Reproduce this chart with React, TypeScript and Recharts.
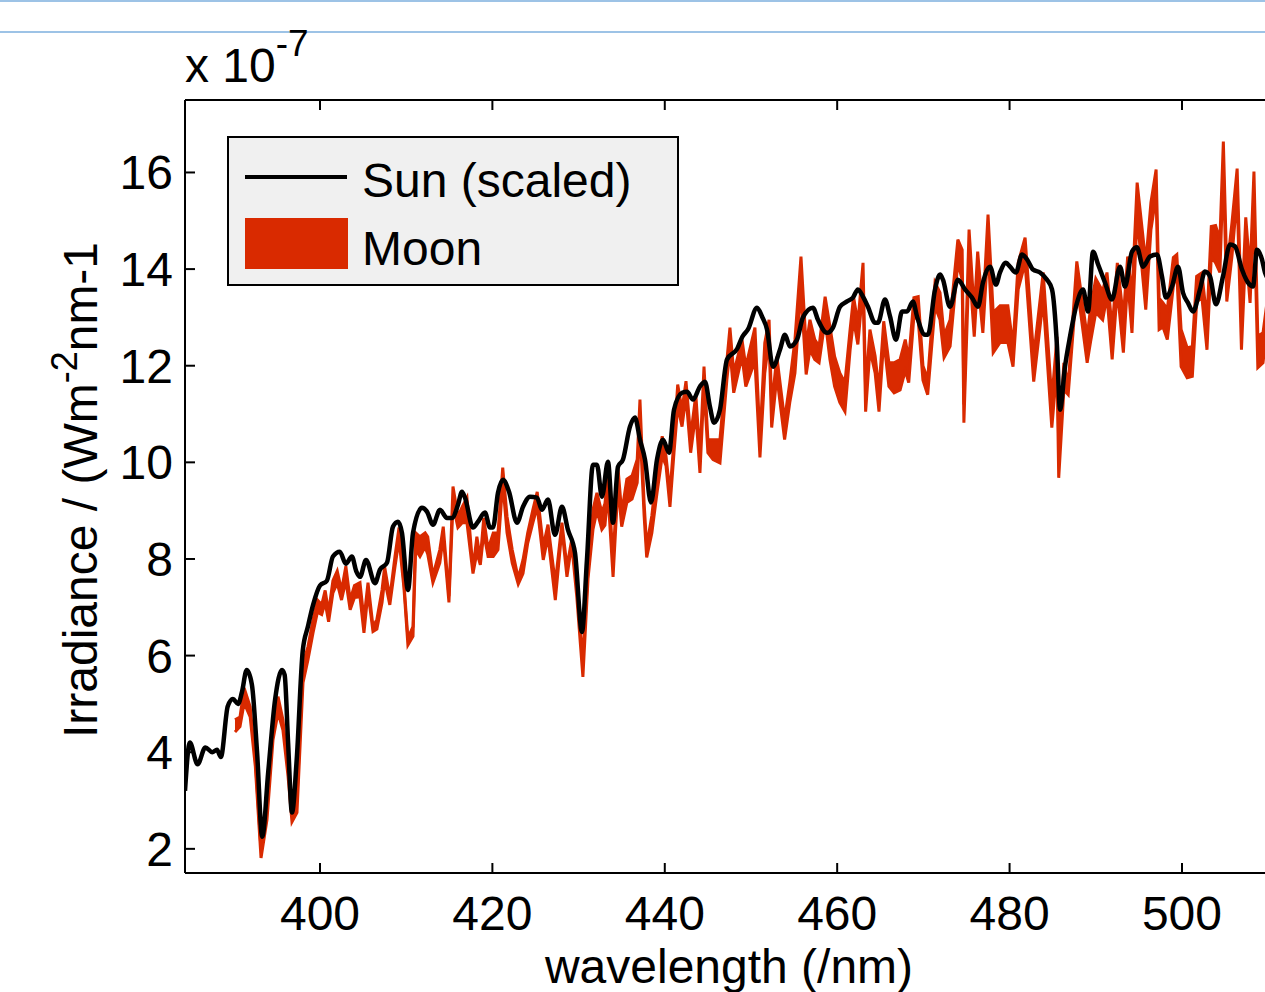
import { ComposedChart, Line, Area, XAxis, YAxis, Legend } from "recharts";

// Sun spectrum (scaled), irradiance in units of 1e-7 W m^-2 nm^-1
const SUN_WL = [
  384.34, 384.9, 385.8, 386.7, 387.5, 388.05, 388.5, 389.3, 389.9, 390.5,
  390.95, 391.5, 392.1, 392.7, 393.3, 394.0, 394.8, 395.6, 395.9, 396.3,
  396.75, 397.3, 398.0, 398.6, 399.2, 400.0, 400.8, 401.5, 402.3, 403.0,
  403.7, 404.2, 404.64, 405.34, 406.38, 406.96, 407.77, 408.47, 409.05, 409.51,
  410.21, 410.79, 411.83, 412.41, 413.11, 413.92, 414.73, 415.31, 416.01, 416.47,
  416.82, 417.75, 418.33, 419.14, 419.72, 420.07, 420.65, 421.23, 421.93, 422.85,
  423.55, 424.36, 425.17, 425.75, 426.45, 427.26, 428.07, 428.77, 429.58, 430.39,
  430.97, 431.67, 432.13, 432.71, 433.41, 433.99, 434.57, 435.15, 435.96, 436.54,
  437.12, 437.7, 438.4, 439.1, 439.79, 440.49, 441.07, 442.0, 442.58, 443.27,
  444.08, 444.66, 445.24, 445.71, 446.4, 447.22, 448.4, 449.0, 449.65, 450.7,
  451.28, 451.86, 452.55, 453.36, 453.94, 454.52, 455.34, 456.03, 457.19, 457.77,
  458.82, 459.51, 460.32, 461.14, 461.83, 462.41, 462.99, 463.57, 464.39, 464.73,
  465.55, 466.13, 466.82, 467.52, 468.1, 468.79, 469.26, 470.19, 470.53, 471.35,
  471.93, 472.27, 473.09, 474.01, 474.83, 475.64, 476.33, 476.91, 477.73, 478.42,
  478.89, 479.58, 480.05, 480.74, 481.44, 482.02, 482.71, 483.53, 484.34, 484.92,
  485.5, 485.85, 486.43, 487.01, 487.82, 488.52, 489.1, 489.68, 490.26, 491.07,
  491.88, 492.81, 493.39, 494.2, 494.78, 495.48, 496.29, 497.1, 497.68, 498.14,
  498.84, 499.54, 500.12, 500.7, 501.28, 502.09, 502.67, 503.25, 503.94, 504.76,
  505.57, 506.15, 506.96, 507.66, 508.24, 508.7, 509.28, 509.63, 510.5,
];
const SUN_IRR = [
  3.2, 4.2, 3.75, 4.1, 4.0, 4.05, 3.9, 4.95, 5.1, 5.0,
  5.25, 5.7, 5.4, 4.0, 2.25, 3.6, 5.1, 5.7, 5.6, 4.2,
  2.75, 3.85, 6.1, 6.6, 7.05, 7.45, 7.55, 8.05, 8.15, 7.9,
  8.05, 7.75, 7.63, 7.98, 7.5, 7.78, 7.92, 8.67, 8.77, 8.54,
  7.36, 8.54, 9.06, 8.98, 8.71, 9.02, 8.85, 8.85, 9.12, 9.39,
  9.27, 8.65, 8.77, 8.96, 8.65, 8.65, 9.37, 9.64, 9.39, 8.75,
  9.08, 9.29, 9.27, 9.02, 9.23, 8.5, 9.08, 8.6, 8.13, 6.49,
  7.98, 9.95, 9.95, 9.29, 10.01, 8.75, 9.91, 10.06, 10.74, 10.93,
  10.47, 10.06, 9.17, 10.06, 10.47, 10.2, 11.09, 11.44, 11.46, 11.3,
  11.57, 11.67, 11.15, 10.82, 11.09, 12.13, 12.35, 12.6, 12.75, 13.2,
  13.02, 12.75, 11.98, 12.33, 12.64, 12.4, 12.54, 13.0, 13.2, 12.95,
  12.68, 12.79, 13.22, 13.33, 13.41, 13.58, 13.43, 13.22, 12.89, 12.89,
  13.37, 13.02, 12.54, 13.12, 13.12, 13.33, 13.02, 12.64, 12.64, 13.58,
  13.89, 13.78, 13.22, 13.78, 13.58, 13.41, 13.22, 13.72, 14.05, 13.68,
  13.93, 14.13, 14.05, 13.93, 14.3, 14.2, 13.99, 13.93, 13.78, 13.58,
  12.4, 11.09, 11.98, 12.6, 13.3, 13.58, 13.12, 14.36, 14.1, 13.72,
  13.37, 14.05, 13.64, 14.36, 14.45, 14.05, 14.26, 14.3, 13.85, 13.41,
  13.64, 14.05, 13.51, 13.3, 13.12, 13.58, 13.95, 13.85, 13.27, 13.85,
  14.51, 14.47, 13.99, 13.72, 13.64, 14.4, 14.2, 13.93, 13.7,
];

// Moon spectrum, drawn as a band between a lower and an upper trace
const MOON_WL = [
  390.14, 390.72, 391.2, 391.9, 392.5, 393.16, 393.85, 394.55, 395.13, 395.7,
  396.3, 396.75, 397.33, 398.03, 398.6, 399.19, 399.7, 400.2, 400.6, 401.0,
  401.5, 402.0, 402.5, 403.0, 403.5, 404.0, 404.64, 405.1, 405.57, 406.15,
  406.6, 407.2, 407.5, 408.1, 408.7, 409.17, 409.74, 410.2, 410.79, 411.1,
  411.6, 412.2, 412.5, 413.1, 413.9, 414.3, 414.96, 415.43, 416.0, 416.5,
  417.05, 417.75, 418.2, 418.6, 419.0, 419.5, 420.1, 420.65, 421.2, 421.7,
  422.3, 423.0, 423.55, 424.1, 424.7, 425.2, 425.9, 426.45, 427.3, 428.07,
  428.65, 429.2, 429.8, 430.5, 431.1, 431.67, 432.13, 432.7, 433.06, 433.4,
  434.0, 434.57, 435.0, 435.6, 436.2, 436.8, 437.12, 437.6, 437.9, 438.5,
  439.1, 439.7, 440.14, 440.6, 441.07, 441.5, 442.0, 442.46, 443.0, 443.6,
  444.08, 444.55, 445.0, 445.6, 446.4, 447.2, 447.56, 448.0, 448.96, 449.4,
  450.46, 451.04, 451.6, 452.1, 452.4, 453.0, 453.9, 454.5, 455.1, 455.8,
  456.4, 456.84, 457.4, 457.9, 458.6, 459.16, 459.7, 460.3, 460.9, 461.5,
  461.9, 462.4, 463.0, 463.3, 463.8, 464.4, 464.85, 465.4, 466.0, 466.6,
  467.3, 467.9, 468.3, 468.9, 469.4, 469.95, 470.5, 471.35, 471.93, 472.4,
  473.1, 474.0, 474.5, 474.7, 475.3, 475.9, 476.3, 476.9, 477.5, 478.1,
  478.9, 479.8, 480.4, 481.0, 481.8, 482.8, 483.9, 484.9, 485.5, 485.7,
  486.3, 486.8, 487.8, 489.0, 489.4, 490.0, 490.8, 491.3, 491.9, 492.5,
  493.2, 493.7, 494.2, 494.8, 495.8, 496.4, 497.0, 497.35, 497.8, 498.3,
  499.0, 499.4, 499.9, 500.6, 501.2, 501.7, 502.3, 502.9, 503.4, 503.9,
  504.4, 504.8, 505.2, 505.8, 506.4, 506.9, 507.4, 507.9, 508.35, 508.8,
  509.4, 510.0,
];
const MOON_LO = [
  4.42, 4.53, 5.02, 4.73, 3.7, 1.81, 2.6, 4.26, 4.82, 4.46,
  3.49, 2.56, 2.75, 5.44, 5.91, 6.47, 6.9, 6.85, 7.1, 6.7,
  7.3, 7.5, 7.15, 7.55, 6.95, 7.2, 7.22, 6.47, 7.3, 6.5,
  6.55, 7.1, 7.57, 7.05, 7.84, 8.4, 7.4, 6.22, 6.4, 8.19,
  8.05, 8.25, 8.1, 7.51, 7.92, 8.46, 7.1, 9.13, 8.65, 8.75,
  8.75, 7.7, 8.13, 7.88, 8.54, 8.05, 8.05, 8.19, 9.58, 8.54,
  7.92, 7.48, 7.7, 8.33, 8.75, 9.08, 7.98, 8.46, 7.15, 8.62,
  7.63, 8.3, 7.2, 5.56, 7.6, 8.61, 9.0, 8.61, 8.7, 9.37,
  7.63, 9.51, 8.67, 9.17, 9.24, 9.58, 10.74, 8.9, 8.03, 8.54,
  9.37, 10.13, 9.93, 9.08, 10.2, 11.16, 10.74, 11.37, 10.2, 11.02,
  9.78, 11.57, 10.2, 10.06, 9.99, 11.7, 12.33, 11.44, 12.19, 11.57,
  12.1, 10.1, 11.85, 12.54, 10.72, 11.78, 10.47, 11.24, 11.85, 13.57,
  11.82, 12.33, 12.13, 12.06, 12.95, 12.13, 11.57, 11.24, 11.05, 12.33,
  12.95, 12.44, 13.65, 11.05, 12.33, 11.85, 11.05, 12.54, 11.57, 11.44,
  11.5, 11.9, 11.65, 13.02, 12.95, 11.7, 11.4, 13.23, 12.95, 12.17,
  12.4, 14.13, 13.78, 10.82, 14.13, 12.6, 13.78, 12.68, 14.47, 12.27,
  12.48, 12.48, 11.98, 13.58, 14.13, 11.67, 13.37, 10.72, 11.98, 9.68,
  11.5, 11.4, 13.7, 12.06, 12.5, 13.1, 12.95, 13.44, 12.13, 13.58,
  12.27, 13.78, 12.68, 15.1, 13.16, 14.82, 15.52, 12.75, 12.8, 12.54,
  13.65, 13.93, 11.98, 11.75, 11.78, 13.3, 13.44, 12.33, 14.26, 14.13,
  13.93, 16.06, 13.33, 14.27, 15.52, 12.33, 14.41, 13.3, 15.3, 11.96,
  12.06, 13.0,
];
const MOON_HI = [
  4.67, 4.73, 5.33, 4.94, 3.84, 1.98, 2.87, 4.46, 5.15, 4.67,
  3.7, 2.75, 3.01, 5.85, 6.18, 6.74, 7.15, 7.05, 7.35, 6.9,
  7.55, 7.75, 7.35, 7.85, 7.15, 7.45, 7.51, 6.75, 7.51, 6.6,
  6.75, 7.36, 7.84, 7.2, 8.05, 8.65, 7.5, 6.36, 6.6, 8.54,
  8.46, 8.54, 8.46, 7.65, 8.19, 8.67, 7.23, 9.5, 8.88, 9.08,
  9.27, 7.8, 8.46, 8.0, 8.85, 8.2, 8.54, 8.54, 9.89, 8.88,
  8.19, 7.6, 7.98, 8.54, 9.02, 9.39, 8.26, 8.71, 7.5, 8.75,
  7.84, 8.4, 7.4, 5.91, 7.8, 9.02, 9.37, 8.96, 9.15, 9.75,
  7.98, 9.89, 8.96, 9.65, 9.72, 10.06, 11.3, 9.17, 8.26, 8.9,
  9.86, 10.54, 10.13, 9.37, 10.47, 11.61, 11.09, 11.68, 10.54, 11.4,
  10.13, 11.98, 10.47, 10.47, 10.47, 12.1, 12.79, 11.85, 12.54, 11.98,
  12.79, 10.47, 12.47, 12.95, 11.17, 12.19, 10.88, 11.65, 12.54, 14.26,
  12.4, 12.95, 12.54, 12.4, 13.43, 12.81, 12.19, 11.85, 11.65, 12.75,
  13.43, 12.88, 14.13, 11.5, 12.75, 12.2, 11.5, 12.92, 12.06, 12.06,
  12.13, 12.54, 12.13, 13.41, 13.43, 12.0, 11.72, 13.72, 13.51, 12.62,
  12.95, 14.61, 14.4, 11.2, 14.82, 13.1, 14.36, 13.1, 15.13, 13.1,
  13.24, 13.24, 12.4, 14.13, 14.65, 12.19, 13.93, 11.3, 12.6, 10.33,
  12.06, 11.6, 14.16, 12.6, 13.2, 13.8, 13.54, 13.93, 12.75, 14.13,
  13.0, 14.26, 13.44, 15.79, 14.13, 15.38, 16.06, 13.4, 13.3, 13.17,
  14.24, 14.3, 12.75, 12.37, 12.4, 13.85, 13.92, 12.95, 14.88, 14.9,
  14.61, 16.64, 13.99, 14.96, 16.08, 13.02, 15.07, 13.93, 16.02, 12.61,
  12.68, 13.5,
];

const X_TICKS = [400, 420, 440, 460, 480, 500];
const Y_TICKS = [2, 4, 6, 8, 10, 12, 14, 16];

const sunData = SUN_WL.map((wl, i) => ({ wl, sun: SUN_IRR[i] }));
const moonData = MOON_WL.map((wl, i) => ({ wl, moon: [MOON_LO[i], MOON_HI[i]] }));

const FONT = '"Liberation Sans", Arial, Helvetica, sans-serif';
const RED = "#D92A00";

function BottomTick({ x, y, payload }: any) {
  return (
    <g>
      <line x1={x} y1={y} x2={x} y2={y - 10} stroke="#000" strokeWidth={2} />
      <text x={x} y={y + 57} textAnchor="middle" fontSize={48} fontFamily={FONT} fill="#000">
        {payload.value}
      </text>
    </g>
  );
}

function TopTick({ x, y }: any) {
  return <line x1={x} y1={y} x2={x} y2={y + 10} stroke="#000" strokeWidth={2} />;
}

function LeftTick({ x, y, payload }: any) {
  return (
    <g>
      <line x1={x} y1={y} x2={x + 10} y2={y} stroke="#000" strokeWidth={2} />
      <text x={x - 12} y={y + 17} textAnchor="end" fontSize={48} fontFamily={FONT} fill="#000">
        {payload.value}
      </text>
    </g>
  );
}

function xTitle() {
  return (
    <text x={729} y={983} textAnchor="middle" fontSize={48} fontFamily={FONT} fill="#000">
      wavelength (/nm)
    </text>
  );
}

function yTitle() {
  return (
    <text
      x={97}
      y={490}
      transform="rotate(-90, 97, 490)"
      textAnchor="middle"
      fontSize={48}
      fontFamily={FONT}
      fill="#000"
    >
      Irradiance / (Wm
      <tspan dy={-20} fontSize={36}>-2</tspan>
      <tspan dy={20} fontSize={48}>nm-1</tspan>
    </text>
  );
}

function renderLegend({ payload }: any) {
  const items = payload || [];
  return (
    <svg width={452} height={150} style={{ display: "block" }}>
      <rect x={1} y={1} width={450} height={148} fill="#F0F0F0" stroke="#000" strokeWidth={2} />
      {items.map((entry: any, i: number) =>
        entry.type === "line" ? (
          <g key={i}>
            <line x1={18} y1={41} x2={120} y2={41} stroke={entry.color} strokeWidth={4} />
            <text x={135} y={61} fontSize={48} fontFamily={FONT} fill="#000">
              {entry.value}
            </text>
          </g>
        ) : (
          <g key={i}>
            <rect x={18} y={82} width={103} height={51} fill={entry.color} />
            <text x={135} y={129} fontSize={48} fontFamily={FONT} fill="#000">
              {entry.value}
            </text>
          </g>
        )
      )}
    </svg>
  );
}

export default function App() {
  return (
    <div
      style={{
        position: "fixed",
        left: 0,
        top: 0,
        width: 1265,
        height: 992,
        overflow: "hidden",
        background: "#fff",
        fontFamily: FONT,
      }}
    >
      <div style={{ position: "absolute", left: 0, top: 0, width: 1265, height: 2, background: "#9DC3E6" }} />
      <div style={{ position: "absolute", left: 0, top: 31, width: 1265, height: 2, background: "#9DC3E6" }} />
      <div
        style={{
          position: "absolute",
          left: 185,
          top: 36,
          fontSize: 48,
          lineHeight: "60px",
          color: "#000",
          whiteSpace: "nowrap",
        }}
      >
        x 10<span style={{ fontSize: 37, position: "relative", top: -26 }}>-7</span>
      </div>
      <ComposedChart
        width={1300}
        height={992}
        margin={{ top: 70, right: 27, bottom: 59, left: 85 }}
      >
        <XAxis
          xAxisId="bottom"
          dataKey="wl"
          type="number"
          domain={[384.34, 510.56]}
          allowDataOverflow
          ticks={X_TICKS}
          interval={0}
          height={60}
          tickSize={0}
          tickMargin={0}
          tickLine={false}
          tick={<BottomTick />}
          axisLine={{ stroke: "#000", strokeWidth: 2 }}
          label={{ content: xTitle }}
        />
        <XAxis
          xAxisId="top"
          orientation="top"
          dataKey="wl"
          type="number"
          domain={[384.34, 510.56]}
          allowDataOverflow
          ticks={X_TICKS}
          interval={0}
          height={30}
          tickSize={0}
          tickMargin={0}
          tickLine={false}
          tick={<TopTick />}
          axisLine={{ stroke: "#000", strokeWidth: 2 }}
        />
        <YAxis
          type="number"
          domain={[1.5, 17.5]}
          allowDataOverflow
          ticks={Y_TICKS}
          interval={0}
          width={100}
          tickSize={0}
          tickMargin={0}
          tickLine={false}
          tick={<LeftTick />}
          axisLine={{ stroke: "#000", strokeWidth: 2 }}
          label={{ content: yTitle }}
        />
        <Legend
          layout="horizontal"
          verticalAlign="middle"
          align="center"
          content={renderLegend}
          wrapperStyle={{ left: 227, top: 136, width: 452, height: 150 }}
        />
        <Line
          xAxisId="bottom"
          data={sunData}
          dataKey="sun"
          name="Sun (scaled)"
          type="monotone"
          stroke="#000"
          strokeWidth={4.5}
          dot={false}
          activeDot={false}
          legendType="line"
          isAnimationActive={false}
        />
        <Area
          xAxisId="bottom"
          data={moonData}
          dataKey="moon"
          name="Moon"
          type="linear"
          stroke={RED}
          strokeWidth={3}
          strokeLinejoin="miter"
          fill={RED}
          fillOpacity={1}
          legendType="rect"
          isAnimationActive={false}
        />
      </ComposedChart>
    </div>
  );
}
